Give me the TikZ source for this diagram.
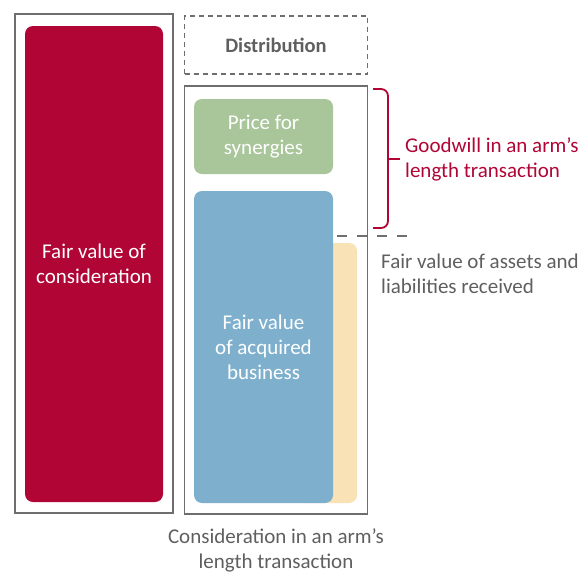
\documentclass[tikz,border=0pt]{standalone}
\usepackage{fontspec}
\setmainfont{Carlito}
\definecolor{crimson}{HTML}{B00535}
\definecolor{sage}{HTML}{A9C59A}
\definecolor{steel}{HTML}{7EB0CE}
\definecolor{sand}{HTML}{F8E2B6}
\definecolor{frame}{HTML}{6E6E6E}
\definecolor{txtgray}{HTML}{5F5F5F}
\tikzset{
  outerbox/.style={draw=frame, line width=1.8pt, minimum width=#1},
  block/.style={fill=#1, rounded corners=8pt, text=white, align=center, inner sep=0pt},
  lbl/.style={font=\fontsize{21}{25}\selectfont, align=left, inner sep=0pt}
}
\begin{document}
\begin{tikzpicture}[x=1pt,y=-1pt]
    \useasboundingbox (0,0) rectangle (585,573);
    % left column:
    \node [outerbox=158, minimum height=499] (consframe) at (94,263.5) {};
    \node [block=crimson, minimum width=138, minimum height=476, lbl, align=center] (consideration) at (94,264) {Fair value of\\consideration};
    % right column:
    \node [draw=frame, line width=1.5pt, dash pattern=on 5pt off 4pt, minimum width=183, minimum height=58, lbl, align=center, font=\fontsize{20.5}{24}\selectfont\bfseries, text=txtgray] (distribution) at (276,45) {Distribution};
    \node [outerbox=183, minimum height=428] (armframe) at (276,300) {};
    \node [block=sage, minimum width=139, minimum height=75, lbl, align=center] (synergies) at (263.5,136.5) {Price for\\synergies};
    \node [block=sand, minimum width=60, minimum height=260] (netassets) at (327,373) {};
    \node [block=steel, minimum width=139, minimum height=312, lbl, align=center] (business) at (263.5,347) {Fair value\\of acquired\\business};
    % goodwill brace:
    \coordinate (bracetop) at (373,89);
    \coordinate (bracebot) at (373,228);
    \coordinate (bracetip) at (400,159);
    \draw [crimson, line width=1.8pt, rounded corners=7pt] (bracetop) -| (388,159) |- (bracebot);
    \draw [crimson, line width=1.8pt] (388,159) -- (bracetip);
    \node [lbl, text=crimson, anchor=west] (goodwill) at (405,159) {Goodwill in an arm’s\\length transaction};
    % fair value line:
    \coordinate (fvstart) at (337,236);
    \coordinate (fvend) at (417,236);
    \draw [frame, line width=1.8pt, dash pattern=on 10pt off 10pt] (fvstart) -- (fvend);
    \node [lbl, text=txtgray, anchor=west] (fairvalue) at (381,274) {Fair value of assets and\\liabilities received};
    % caption:
    \node [lbl, text=txtgray, align=center] (caption) at (276,550) {Consideration in an arm’s\\length transaction};
\end{tikzpicture}
\end{document}
